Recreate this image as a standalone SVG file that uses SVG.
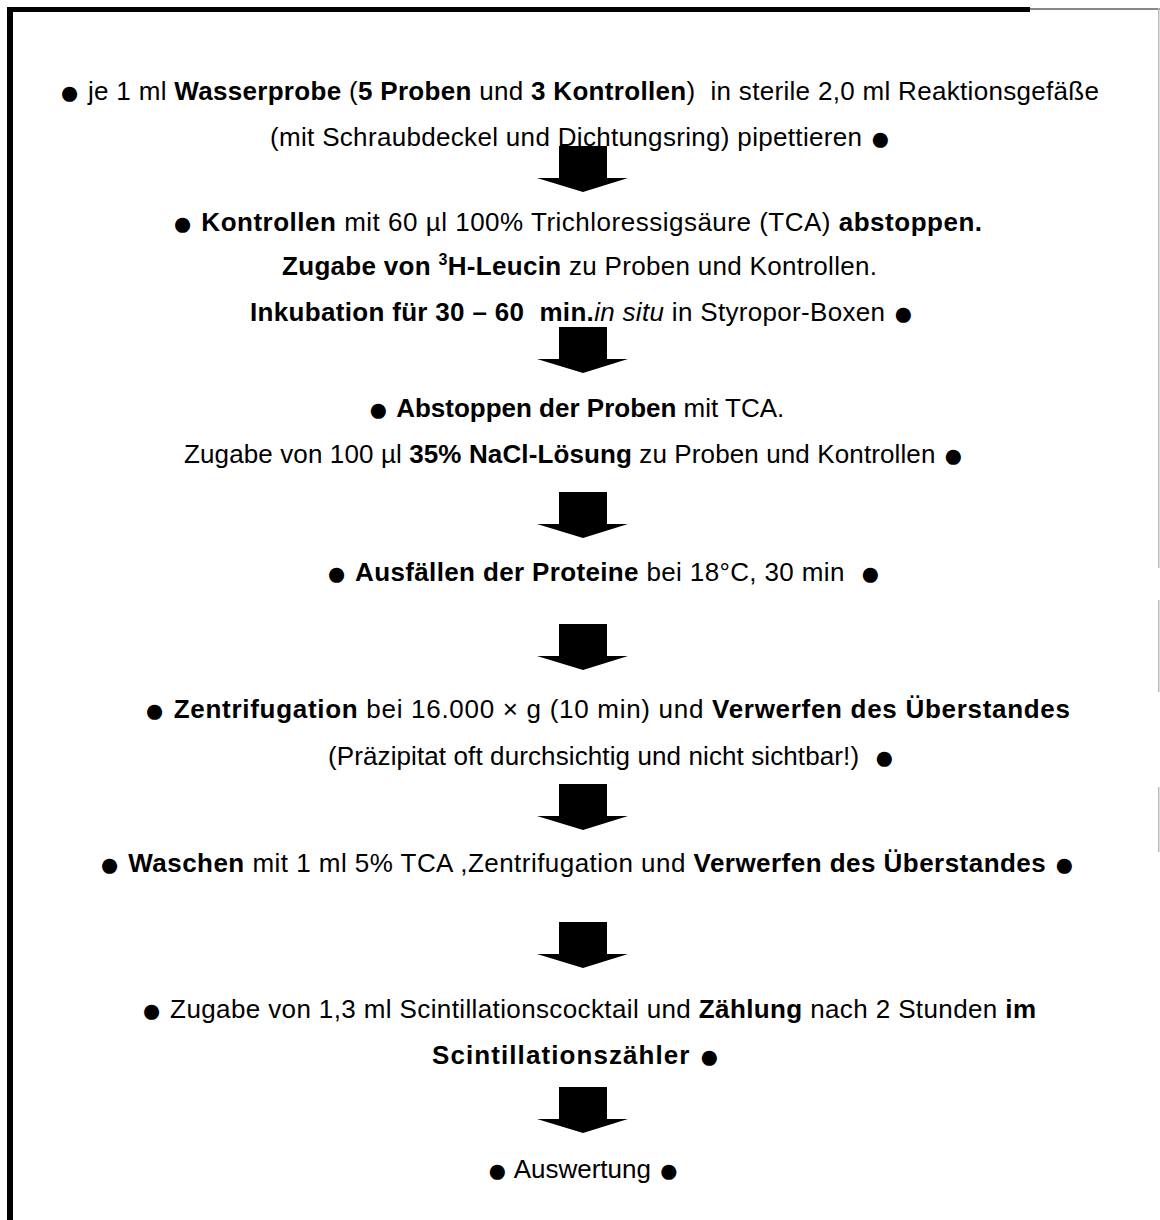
<svg xmlns="http://www.w3.org/2000/svg" width="1160" height="1220" viewBox="0 0 1160 1220">
<style>
text{font-family:"Liberation Sans",Arial,sans-serif;font-size:26px;fill:#000;white-space:pre}
.b{font-weight:bold}
.i{font-style:italic}
.bu{font-size:35px;font-weight:normal;font-style:normal;baseline-shift:-4px}
.c{text-anchor:middle}
.arrow{fill:#000}
</style>
<defs>
<polygon id="arr" points="559,0 607,0 607,32 628,32 583,46 537,32 559,32"/>
</defs>
<rect width="1160" height="1220" fill="#fff"/>
<g id="frame">
<rect x="7" y="7" width="6" height="1213" fill="#000"/>
<rect x="7" y="7" width="1023" height="5" fill="#000"/>
<rect x="1030" y="8" width="130" height="2" fill="#888"/>
<rect x="1158" y="8" width="1.5" height="560" fill="#bbb"/>
<rect x="1158" y="600" width="1.5" height="92" fill="#bbb"/>
<rect x="1158" y="787" width="1.5" height="65" fill="#bbb"/>
</g>
<g id="step1">
<text x="59" y="100" textLength="1040" lengthAdjust="spacing"><tspan class="bu">●</tspan> je 1 ml <tspan class="b">Wasserprobe</tspan> (<tspan class="b">5 Proben</tspan> und <tspan class="b">3 Kontrollen</tspan>)  in sterile 2,0 ml Reaktionsgefäße</text>
<text x="270" y="146" textLength="621" lengthAdjust="spacing">(mit Schraubdeckel und Dichtungsring) pipettieren <tspan class="bu">●</tspan></text>
</g>
<g id="step2">
<text x="172" y="231" textLength="810" lengthAdjust="spacing"><tspan class="bu">●</tspan> <tspan class="b">Kontrollen</tspan> mit 60 µl 100% Trichloressigsäure (TCA) <tspan class="b">abstoppen.</tspan></text>
<text x="282" y="275" textLength="595" lengthAdjust="spacing"><tspan class="b">Zugabe von </tspan><tspan class="b" font-size="16" dy="-10">3</tspan><tspan class="b" dy="10">H-Leucin</tspan> zu Proben und Kontrollen.</text>
<text x="250" y="321" textLength="664" lengthAdjust="spacing"><tspan class="b">Inkubation für 30 – 60  min.</tspan><tspan class="i">in situ</tspan> in Styropor-Boxen <tspan class="bu">●</tspan></text>
</g>
<g id="step3">
<text class="c" x="576" y="417"><tspan class="bu">●</tspan> <tspan class="b">Abstoppen der Proben</tspan> mit TCA.</text>
<text x="184" y="463" textLength="780" lengthAdjust="spacing">Zugabe von 100 µl <tspan class="b">35% NaCl-Lösung</tspan> zu Proben und Kontrollen <tspan class="bu">●</tspan></text>
</g>
<g id="step4">
<text x="326" y="581" textLength="555" lengthAdjust="spacing"><tspan class="bu">●</tspan> <tspan class="b">Ausfällen der Proteine</tspan> bei 18°C, 30 min  <tspan class="bu">●</tspan></text>
</g>
<g id="step5">
<text x="144" y="718" textLength="926" lengthAdjust="spacing"><tspan class="bu">●</tspan> <tspan class="b">Zentrifugation</tspan> bei 16.000 × g (10 min) und <tspan class="b">Verwerfen des Überstandes</tspan></text>
<text x="328" y="765" textLength="567" lengthAdjust="spacing">(Präzipitat oft durchsichtig und nicht sichtbar!)  <tspan class="bu">●</tspan></text>
</g>
<g id="step6">
<text x="99" y="872" textLength="976" lengthAdjust="spacing"><tspan class="bu">●</tspan> <tspan class="b">Waschen</tspan> mit 1 ml 5% TCA ,Zentrifugation und <tspan class="b">Verwerfen des Überstandes</tspan> <tspan class="bu">●</tspan></text>
</g>
<g id="step7">
<text x="141" y="1018" textLength="895" lengthAdjust="spacing"><tspan class="bu">●</tspan> Zugabe von 1,3 ml Scintillationscocktail und <tspan class="b">Zählung</tspan> nach 2 Stunden <tspan class="b">im</tspan></text>
<text x="432" y="1064" textLength="288" lengthAdjust="spacing"><tspan class="b">Scintillationszähler</tspan> <tspan class="bu">●</tspan></text>
</g>
<g id="step8">
<text class="c" x="583" y="1178"><tspan class="bu">●</tspan> Auswertung <tspan class="bu">●</tspan></text>
</g>
<g id="connectors">
<use href="#arr" class="arrow" y="146"/>
<use href="#arr" class="arrow" y="327"/>
<use href="#arr" class="arrow" y="492"/>
<use href="#arr" class="arrow" y="624"/>
<use href="#arr" class="arrow" y="784"/>
<use href="#arr" class="arrow" y="922"/>
<use href="#arr" class="arrow" y="1087"/>
</g>
</svg>
